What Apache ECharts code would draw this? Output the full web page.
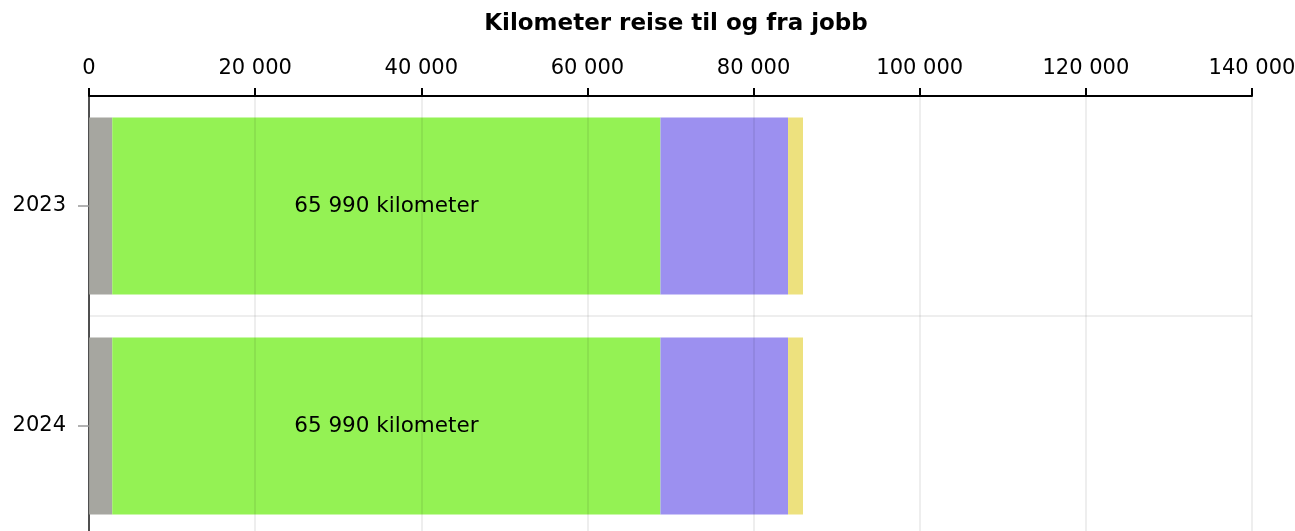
<!DOCTYPE html>
<html><head><meta charset="utf-8">
<script src="https://cdn.jsdelivr.net/npm/echarts@6/dist/echarts.min.js"></script>
<style>html,body{margin:0;padding:0;background:#fff;overflow:hidden;width:1295px;height:531px}#w{width:1295px;height:531px;overflow:hidden}#c{width:1295px;height:545px}</style>
</head><body><div id="w"><div id="c"></div></div>
<script>
const categories = ['2023', '2024'];
const seriesNames = ['Annet', 'Bil', 'Kollektiv', 'Sykkel'];
const grayValues = [2800, 2800];
const greenValues = [65990, 65990];
const purpleValues = [15360, 15360];
const yellowValues = [1800, 1800];
const xTicks = [0, 20000, 40000, 60000, 80000, 100000, 120000, 140000];
const colors = ['#a6a6a0', '#94f254', '#9c90f0', '#ede17e'];

const fmt = v => String(Math.round(v)).replace(/\B(?=(\d{3})+(?!\d))/g, ' ');
const font = 'DejaVu Sans';
const chart = echarts.init(document.getElementById('c'));
const values = [grayValues, greenValues, purpleValues, yellowValues];
chart.setOption({
  animation: false,
  title: { text: 'Kilometer reise til og fra jobb', left: 671, textAlign: 'center', top: 8,
    textStyle: { fontFamily: font, fontSize: 23, fontWeight: 'bold', color: '#000' } },
  grid: { left: 89, right: 43, top: 96, height: 440, containLabel: false, outerBoundsMode: 'none' },
  xAxis: {
    type: 'value', position: 'top', min: xTicks[0], max: xTicks[xTicks.length - 1], interval: 20000, z: 5,
    axisLine: { show: true, lineStyle: { color: '#000', width: 2 } },
    axisTick: { show: true, length: 8, lineStyle: { color: '#000', width: 2 } },
    axisLabel: { fontFamily: font, fontSize: 21, color: '#000', margin: 17, formatter: fmt },
    splitLine: { show: true, lineStyle: { color: 'rgba(0,0,0,0.09)', width: 1.5 } }
  },
  yAxis: {
    type: 'category', data: categories, inverse: true,
    axisLine: { show: true, lineStyle: { color: '#555', width: 2 } },
    axisTick: { show: true, alignWithLabel: true, length: 11, lineStyle: { color: '#999', width: 1.5 } },
    axisLabel: { fontFamily: font, fontSize: 21, color: '#000', margin: 23 },
    splitLine: { show: true, lineStyle: { color: 'rgba(0,0,0,0.09)', width: 1.5 } }
  },
  series: seriesNames.map((name, i) => ({
    name, type: 'bar', stack: 'total', data: values[i], barCategoryGap: '19.5%',
    itemStyle: { color: colors[i] },
    label: i === 1 ? { show: true, position: 'inside', fontFamily: font, fontSize: 21.5, color: '#000',
      formatter: p => fmt(p.value) + ' kilometer' } : { show: false }
  }))
});
</script></body></html>
